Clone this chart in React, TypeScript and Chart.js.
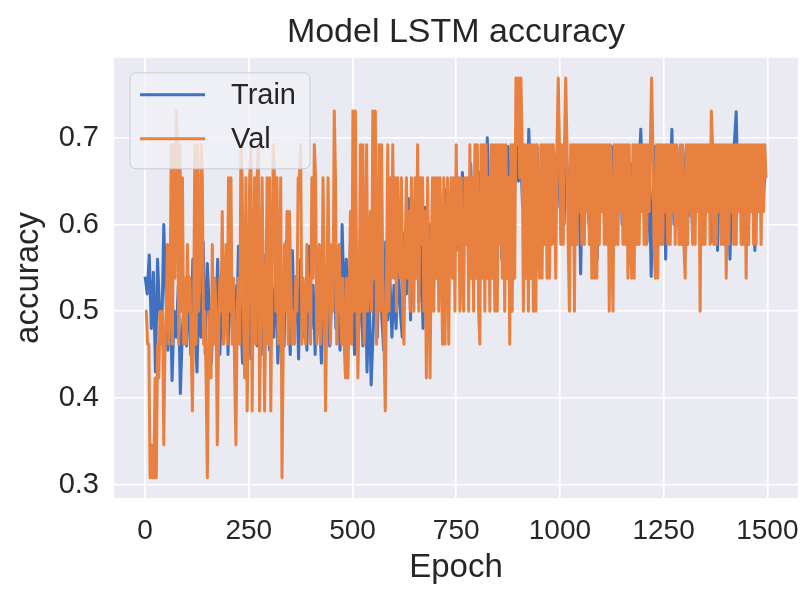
import React, { useEffect, useRef } from "react";
import { Chart, registerables } from "chart.js";

Chart.register(...registerables);

// Accuracy. Train: one sample every 5 epochs; Val: one every 3 epochs.
const TRAIN_EPOCH_STEP = 5;
const VAL_EPOCH_STEP = 3;

const trainAccuracy = [
  0.540, 0.520, 0.565, 0.480, 0.545, 0.430, 0.560, 0.500, 0.470, 0.600, 0.520, 0.455, 0.540, 0.420, 0.500, 0.470, 0.530, 0.405, 0.480, 0.520,
  0.460, 0.540, 0.450, 0.560, 0.490, 0.430, 0.520, 0.470, 0.580, 0.450, 0.555, 0.500, 0.440, 0.530, 0.480, 0.560, 0.450, 0.510, 0.470, 0.540,
  0.450, 0.570, 0.480, 0.530, 0.460, 0.575, 0.500, 0.440, 0.560, 0.470, 0.520, 0.445, 0.550, 0.490, 0.460, 0.540, 0.450, 0.565, 0.480, 0.520,
  0.455, 0.530, 0.470, 0.560, 0.440, 0.510, 0.545, 0.460, 0.580, 0.500, 0.450, 0.570, 0.480, 0.540, 0.445, 0.560, 0.470, 0.520, 0.455, 0.575,
  0.480, 0.530, 0.450, 0.560, 0.500, 0.440, 0.545, 0.470, 0.575, 0.460, 0.520, 0.590, 0.480, 0.540, 0.455, 0.600, 0.500, 0.560, 0.470, 0.580,
  0.500, 0.450, 0.570, 0.480, 0.540, 0.460, 0.560, 0.430, 0.520, 0.415, 0.480, 0.560, 0.470, 0.600, 0.500, 0.455, 0.580, 0.490, 0.540, 0.470,
  0.530, 0.480, 0.560, 0.500, 0.470, 0.590, 0.520, 0.630, 0.490, 0.600, 0.545, 0.640, 0.510, 0.580, 0.480, 0.620, 0.540, 0.600, 0.520, 0.610,
  0.560, 0.620, 0.520, 0.600, 0.580, 0.640, 0.550, 0.620, 0.590, 0.650, 0.570, 0.630, 0.600, 0.660, 0.580, 0.640, 0.600, 0.670, 0.590, 0.650,
  0.610, 0.660, 0.590, 0.680, 0.620, 0.700, 0.600, 0.650, 0.630, 0.690, 0.610, 0.670, 0.560, 0.660, 0.640, 0.690, 0.600, 0.670, 0.630, 0.700,
  0.650, 0.690, 0.620, 0.680, 0.600, 0.710, 0.640, 0.670, 0.610, 0.690, 0.580, 0.660, 0.630, 0.690, 0.600, 0.680, 0.650, 0.580, 0.670, 0.690,
  0.620, 0.680, 0.600, 0.690, 0.640, 0.580, 0.670, 0.690, 0.610, 0.660, 0.543, 0.680, 0.630, 0.690, 0.600, 0.660, 0.640, 0.690, 0.560, 0.670,
  0.620, 0.690, 0.600, 0.660, 0.640, 0.690, 0.580, 0.670, 0.620, 0.690, 0.600, 0.650, 0.680, 0.590, 0.670, 0.640, 0.690, 0.610, 0.660, 0.710,
  0.630, 0.690, 0.580, 0.670, 0.540, 0.650, 0.690, 0.600, 0.680, 0.620, 0.690, 0.560, 0.670, 0.640, 0.710, 0.600, 0.680, 0.630, 0.690, 0.590,
  0.660, 0.690, 0.610, 0.680, 0.580, 0.670, 0.640, 0.690, 0.600, 0.660, 0.690, 0.620, 0.680, 0.580, 0.650, 0.690, 0.570, 0.670, 0.630, 0.690,
  0.600, 0.680, 0.560, 0.660, 0.690, 0.730, 0.620, 0.680, 0.580, 0.670, 0.690, 0.610, 0.660, 0.690, 0.570, 0.680, 0.640, 0.690, 0.630, 0.660,
];

const valAccuracy = [
  0.500, 0.500, 0.462, 0.462, 0.308, 0.346, 0.308, 0.308, 0.423, 0.308, 0.462, 0.423, 0.500, 0.462, 0.500, 0.346, 0.462, 0.500, 0.577, 0.462,
  0.500, 0.692, 0.462, 0.692, 0.538, 0.731, 0.692, 0.462, 0.692, 0.500, 0.654, 0.462, 0.538, 0.462, 0.577, 0.500, 0.538, 0.462, 0.385, 0.500,
  0.692, 0.462, 0.692, 0.500, 0.538, 0.692, 0.654, 0.462, 0.500, 0.423, 0.308, 0.462, 0.500, 0.423, 0.577, 0.462, 0.538, 0.500, 0.346, 0.462,
  0.538, 0.500, 0.615, 0.462, 0.500, 0.577, 0.462, 0.654, 0.500, 0.654, 0.462, 0.538, 0.423, 0.346, 0.500, 0.538, 0.462, 0.692, 0.654, 0.500,
  0.423, 0.654, 0.385, 0.500, 0.654, 0.692, 0.385, 0.538, 0.654, 0.462, 0.654, 0.692, 0.385, 0.500, 0.654, 0.538, 0.385, 0.500, 0.654, 0.462,
  0.654, 0.385, 0.538, 0.692, 0.654, 0.500, 0.654, 0.462, 0.538, 0.654, 0.308, 0.462, 0.577, 0.500, 0.615, 0.462, 0.615, 0.538, 0.462, 0.500,
  0.462, 0.538, 0.500, 0.654, 0.654, 0.692, 0.462, 0.538, 0.500, 0.462, 0.577, 0.500, 0.538, 0.462, 0.654, 0.538, 0.692, 0.654, 0.462, 0.500,
  0.577, 0.462, 0.500, 0.654, 0.538, 0.385, 0.500, 0.654, 0.538, 0.462, 0.577, 0.500, 0.731, 0.654, 0.462, 0.538, 0.577, 0.500, 0.462, 0.538,
  0.462, 0.423, 0.538, 0.423, 0.500, 0.615, 0.462, 0.731, 0.500, 0.731, 0.538, 0.423, 0.500, 0.692, 0.500, 0.692, 0.462, 0.538, 0.692, 0.500,
  0.538, 0.615, 0.500, 0.731, 0.538, 0.731, 0.462, 0.538, 0.692, 0.500, 0.692, 0.538, 0.462, 0.385, 0.538, 0.692, 0.500, 0.654, 0.538, 0.692,
  0.538, 0.654, 0.500, 0.654, 0.577, 0.538, 0.654, 0.500, 0.462, 0.577, 0.654, 0.538, 0.615, 0.500, 0.654, 0.577, 0.500, 0.654, 0.538, 0.692,
  0.500, 0.654, 0.577, 0.654, 0.500, 0.615, 0.423, 0.654, 0.538, 0.423, 0.577, 0.654, 0.500, 0.654, 0.538, 0.654, 0.500, 0.654, 0.577, 0.462,
  0.654, 0.462, 0.577, 0.654, 0.462, 0.615, 0.654, 0.538, 0.654, 0.500, 0.692, 0.577, 0.654, 0.500, 0.654, 0.538, 0.500, 0.654, 0.577, 0.654,
  0.500, 0.692, 0.538, 0.654, 0.500, 0.692, 0.538, 0.692, 0.500, 0.462, 0.692, 0.538, 0.692, 0.500, 0.692, 0.538, 0.654, 0.500, 0.692, 0.538,
  0.692, 0.500, 0.692, 0.500, 0.692, 0.577, 0.692, 0.538, 0.692, 0.500, 0.692, 0.538, 0.654, 0.462, 0.692, 0.500, 0.692, 0.538, 0.769, 0.692,
  0.769, 0.654, 0.769, 0.692, 0.500, 0.692, 0.538, 0.692, 0.500, 0.692, 0.538, 0.692, 0.500, 0.692, 0.500, 0.692, 0.577, 0.538, 0.692, 0.538,
  0.692, 0.577, 0.692, 0.538, 0.692, 0.538, 0.692, 0.577, 0.692, 0.654, 0.538, 0.692, 0.769, 0.692, 0.577, 0.692, 0.577, 0.692, 0.769, 0.692,
  0.577, 0.500, 0.692, 0.577, 0.692, 0.500, 0.692, 0.577, 0.692, 0.615, 0.692, 0.577, 0.692, 0.577, 0.692, 0.615, 0.692, 0.577, 0.692, 0.538,
  0.692, 0.538, 0.692, 0.538, 0.692, 0.577, 0.692, 0.615, 0.692, 0.577, 0.692, 0.577, 0.692, 0.500, 0.692, 0.577, 0.500, 0.692, 0.577, 0.692,
  0.577, 0.692, 0.615, 0.692, 0.577, 0.692, 0.577, 0.692, 0.538, 0.692, 0.577, 0.538, 0.692, 0.538, 0.692, 0.577, 0.692, 0.577, 0.692, 0.615,
  0.692, 0.577, 0.692, 0.577, 0.692, 0.615, 0.692, 0.769, 0.692, 0.577, 0.538, 0.692, 0.538, 0.692, 0.577, 0.692, 0.577, 0.692, 0.615, 0.692,
  0.577, 0.692, 0.577, 0.692, 0.615, 0.692, 0.577, 0.692, 0.654, 0.577, 0.692, 0.577, 0.692, 0.577, 0.538, 0.692, 0.577, 0.692, 0.615, 0.692,
  0.577, 0.692, 0.577, 0.692, 0.615, 0.692, 0.500, 0.692, 0.577, 0.692, 0.577, 0.692, 0.615, 0.692, 0.577, 0.731, 0.692, 0.577, 0.692, 0.577,
  0.692, 0.615, 0.692, 0.577, 0.692, 0.577, 0.692, 0.538, 0.692, 0.577, 0.692, 0.615, 0.692, 0.577, 0.692, 0.577, 0.692, 0.615, 0.692, 0.577,
  0.692, 0.577, 0.692, 0.538, 0.692, 0.577, 0.692, 0.615, 0.692, 0.577, 0.692, 0.577, 0.692, 0.615, 0.692, 0.577, 0.692, 0.615, 0.692, 0.654,
];

const seriesNames = ["Train", "Val"];
const xTickValues = [0, 250, 500, 750, 1000, 1250, 1500];
const yTickValues = [0.3, 0.4, 0.5, 0.6, 0.7];

const TITLE = "Model LSTM accuracy";
const X_LABEL = "Epoch";
const Y_LABEL = "accuracy";

const TRAIN_COLOR = "#4071c0";
const VAL_COLOR = "#e8803f";
const TEXT_COLOR = "#262626";
const PLOT_BG = "#eaeaf2";
const FONT = "'Liberation Sans', Arial, Helvetica, sans-serif";

const bgPlugin = {
  id: "plotBackground",
  beforeDraw(chart: any) {
    const { ctx, chartArea: a, width, height } = chart;
    ctx.save();
    ctx.fillStyle = "#ffffff";
    ctx.fillRect(0, 0, width, height);
    ctx.fillStyle = PLOT_BG;
    ctx.fillRect(a.left, a.top, a.right - a.left, a.bottom - a.top);
    ctx.restore();
  },
};

function roundRect(ctx: CanvasRenderingContext2D, x: number, y: number, w: number, h: number, r: number) {
  ctx.beginPath();
  ctx.moveTo(x + r, y);
  ctx.lineTo(x + w - r, y);
  ctx.arcTo(x + w, y, x + w, y + r, r);
  ctx.lineTo(x + w, y + h - r);
  ctx.arcTo(x + w, y + h, x + w - r, y + h, r);
  ctx.lineTo(x + r, y + h);
  ctx.arcTo(x, y + h, x, y + h - r, r);
  ctx.lineTo(x, y + r);
  ctx.arcTo(x, y, x + r, y, r);
  ctx.closePath();
}

const legendPlugin = {
  id: "insideLegend",
  afterDatasetsDraw(chart: any) {
    const { ctx, chartArea: a } = chart;
    const left = a.left + 16;
    const top = a.top + 15;
    const w = 180;
    const h = 96;
    ctx.save();
    roundRect(ctx, left, top, w, h, 6);
    ctx.fillStyle = "rgba(240,240,246,0.82)";
    ctx.fill();
    ctx.lineWidth = 1;
    ctx.strokeStyle = "rgba(200,200,208,0.9)";
    ctx.stroke();
    const colors = [TRAIN_COLOR, VAL_COLOR];
    const rows = [top + 22, top + 66];
    seriesNames.forEach((name, i) => {
      const y = rows[i];
      ctx.beginPath();
      ctx.moveTo(left + 10, y);
      ctx.lineTo(left + 75, y);
      ctx.strokeStyle = colors[i];
      ctx.lineWidth = 3;
      ctx.stroke();
      ctx.fillStyle = TEXT_COLOR;
      ctx.font = `29px ${FONT}`;
      ctx.textAlign = "left";
      ctx.textBaseline = "middle";
      ctx.fillText(name, left + 101, y + 1);
    });
    ctx.restore();
  },
};

export default function App() {
  const canvasRef = useRef<HTMLCanvasElement | null>(null);

  useEffect(() => {
    const canvas = canvasRef.current;
    if (!canvas) return;
    const toPoints = (arr: number[], step: number) => arr.map((y, i) => ({ x: i * step, y }));
    const chart = new Chart(canvas, {
      type: "line",
      data: {
        datasets: [
          {
            label: seriesNames[0],
            data: toPoints(trainAccuracy, TRAIN_EPOCH_STEP),
            borderColor: TRAIN_COLOR,
            backgroundColor: TRAIN_COLOR,
            borderWidth: 3,
            pointRadius: 0,
            tension: 0,
            fill: false,
            borderJoinStyle: "round",
            order: 2,
          },
          {
            label: seriesNames[1],
            data: toPoints(valAccuracy, VAL_EPOCH_STEP),
            borderColor: VAL_COLOR,
            backgroundColor: VAL_COLOR,
            borderWidth: 3,
            pointRadius: 0,
            tension: 0,
            fill: false,
            borderJoinStyle: "round",
            order: 1,
          },
        ],
      },
      options: {
        responsive: false,
        animation: false,
        devicePixelRatio: 1,
        parsing: false,
        layout: { padding: { left: 0, right: 3, top: 0, bottom: 0 } },
        plugins: {
          legend: { display: false },
          tooltip: { enabled: false },
          title: {
            display: true,
            text: TITLE,
            color: TEXT_COLOR,
            fullSize: false,
            font: { family: FONT, size: 34, weight: "normal" },
            padding: { top: 12, bottom: 5 },
          },
        },
        scales: {
          x: {
            type: "linear",
            min: -75,
            max: 1574,
            afterBuildTicks: (s: any) => {
              s.ticks = xTickValues.map((v) => ({ value: v }));
            },
            afterFit: (s: any) => {
              s.height = 96;
              s.paddingLeft = 0;
              s.paddingRight = 0;
            },
            grid: { color: "#ffffff", lineWidth: 1.6, drawTicks: false },
            border: { display: false },
            ticks: {
              color: TEXT_COLOR,
              padding: 16,
              maxRotation: 0,
              autoSkip: false,
              font: { family: FONT, size: 28 },
              callback: (v: any) => String(v),
            },
            title: {
              display: true,
              text: X_LABEL,
              color: TEXT_COLOR,
              font: { family: FONT, size: 33 },
              padding: { top: 0, bottom: 6 },
            },
          },
          y: {
            type: "linear",
            min: 0.2846,
            max: 0.7923,
            afterBuildTicks: (s: any) => {
              s.ticks = yTickValues.map((v) => ({ value: v }));
            },
            afterFit: (s: any) => {
              s.width = 114;
              s.paddingTop = 0;
              s.paddingBottom = 0;
            },
            grid: { color: "#ffffff", lineWidth: 1.6, drawTicks: false },
            border: { display: false },
            ticks: {
              color: TEXT_COLOR,
              padding: 15,
              autoSkip: false,
              font: { family: FONT, size: 29 },
              callback: (v: any) => Number(v).toFixed(1),
            },
            title: {
              display: true,
              text: Y_LABEL,
              color: TEXT_COLOR,
              font: { family: FONT, size: 33 },
              padding: { top: 9, bottom: 0 },
            },
          },
        },
      },
      plugins: [bgPlugin, legendPlugin],
    } as any);
    return () => chart.destroy();
  }, []);

  return (
    <div style={{ position: "absolute", left: 0, top: 0, width: 801, height: 594 }}>
      <canvas ref={canvasRef} width={801} height={594} style={{ display: "block" }} />
    </div>
  );
}
